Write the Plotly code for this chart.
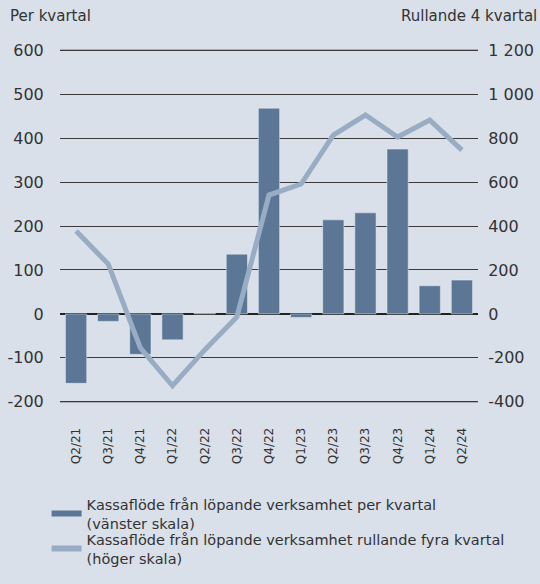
import plotly.graph_objects as go

quarters = ["Q2/21", "Q3/21", "Q4/21", "Q1/22", "Q2/22", "Q3/22", "Q4/22",
            "Q1/23", "Q2/23", "Q3/23", "Q4/23", "Q1/24", "Q2/24"]
per_kvartal = [-158, -17, -92, -59, 2, 136, 468, -8, 214, 230, 375, 64, 77]
rullande = [377, 227, -155, -327, -164, -14, 541, 591, 814, 905, 805, 882, 745]

left_ticks = [-200, -100, 0, 100, 200, 300, 400, 500, 600]
left_text = ["-200", "-100", "0", "100", "200", "300", "400", "500", "600"]
right_ticks = [-400, -200, 0, 200, 400, 600, 800, 1000, 1200]
right_text = ["-400", "-200", "0", "200", "400", "600", "800", "1 000", "1 200"]

bar_col = "#5b7795"
line_col = "#98adc4"
bg = "#d9e0e9"
txt = "#333333"
grid = "#3a3a3a"

fig = go.Figure()
fig.add_trace(go.Bar(x=quarters, y=per_kvartal, marker_color=bar_col,
                     showlegend=False, yaxis="y"))
fig.add_trace(go.Scatter(x=quarters, y=rullande, mode="lines",
                         line=dict(color=line_col, width=5),
                         showlegend=False, yaxis="y2"))

# legend entries drawn as short thick strokes, one legend box each
fig.add_trace(go.Scatter(x=[None], y=[None], mode="lines", legend="legend",
                         line=dict(color=bar_col, width=6),
                         name="Kassaflöde från löpande verksamhet per kvartal<br>(vänster skala)"))
fig.add_trace(go.Scatter(x=[None], y=[None], mode="lines", legend="legend2",
                         line=dict(color=line_col, width=6),
                         name="Kassaflöde från löpande verksamhet rullande fyra kvartal<br>(höger skala)"))

# outer gridlines (plotly drops them near the range edge)
for v in (left_ticks[0], left_ticks[-1]):
    fig.add_hline(y=v, line=dict(color=grid, width=1), layer="below")

leg = dict(x=-0.032, xanchor="left", yanchor="top", yref="container",
           bgcolor="rgba(0,0,0,0)", font=dict(size=14.5))

fig.update_layout(
    width=540, height=584,
    margin=dict(l=60, r=62, t=48, b=180, autoexpand=False),
    paper_bgcolor=bg, plot_bgcolor=bg,
    font=dict(family="DejaVu Sans", size=14, color=txt),
    bargap=0.34,
    xaxis=dict(tickangle=-90, tickfont=dict(size=12), showgrid=False,
               ticks="outside", ticklen=18, tickcolor=bg, showline=False,
               automargin=False),
    yaxis=dict(range=[-205, 605], tickvals=left_ticks, ticktext=left_text,
               tickfont=dict(size=16),
               showgrid=True, gridcolor=grid, gridwidth=1,
               zeroline=True, zerolinecolor="#222222", zerolinewidth=2,
               ticks="outside", ticklen=12, tickcolor=bg, automargin=False),
    yaxis2=dict(range=[-410, 1210], tickvals=right_ticks, ticktext=right_text,
                tickfont=dict(size=16),
                overlaying="y", side="right", showgrid=False, zeroline=False,
                ticks="outside", ticklen=6, tickcolor=bg, automargin=False),
    legend=dict(leg, y=0.164),
    legend2=dict(leg, y=0.104),
    annotations=[
        dict(text="Per kvartal", x=0, y=1, xref="paper", yref="paper",
             xanchor="left", yanchor="middle", showarrow=False,
             xshift=-52, yshift=32, font=dict(size=15)),
        dict(text="Rullande 4 kvartal", x=1, y=1, xref="paper", yref="paper",
             xanchor="right", yanchor="middle", showarrow=False,
             xshift=61, yshift=32, font=dict(size=15)),
    ],
)

fig.write_html("out.html", config={"displayModeBar": False},
               post_script="document.body.style.margin='0px';")
